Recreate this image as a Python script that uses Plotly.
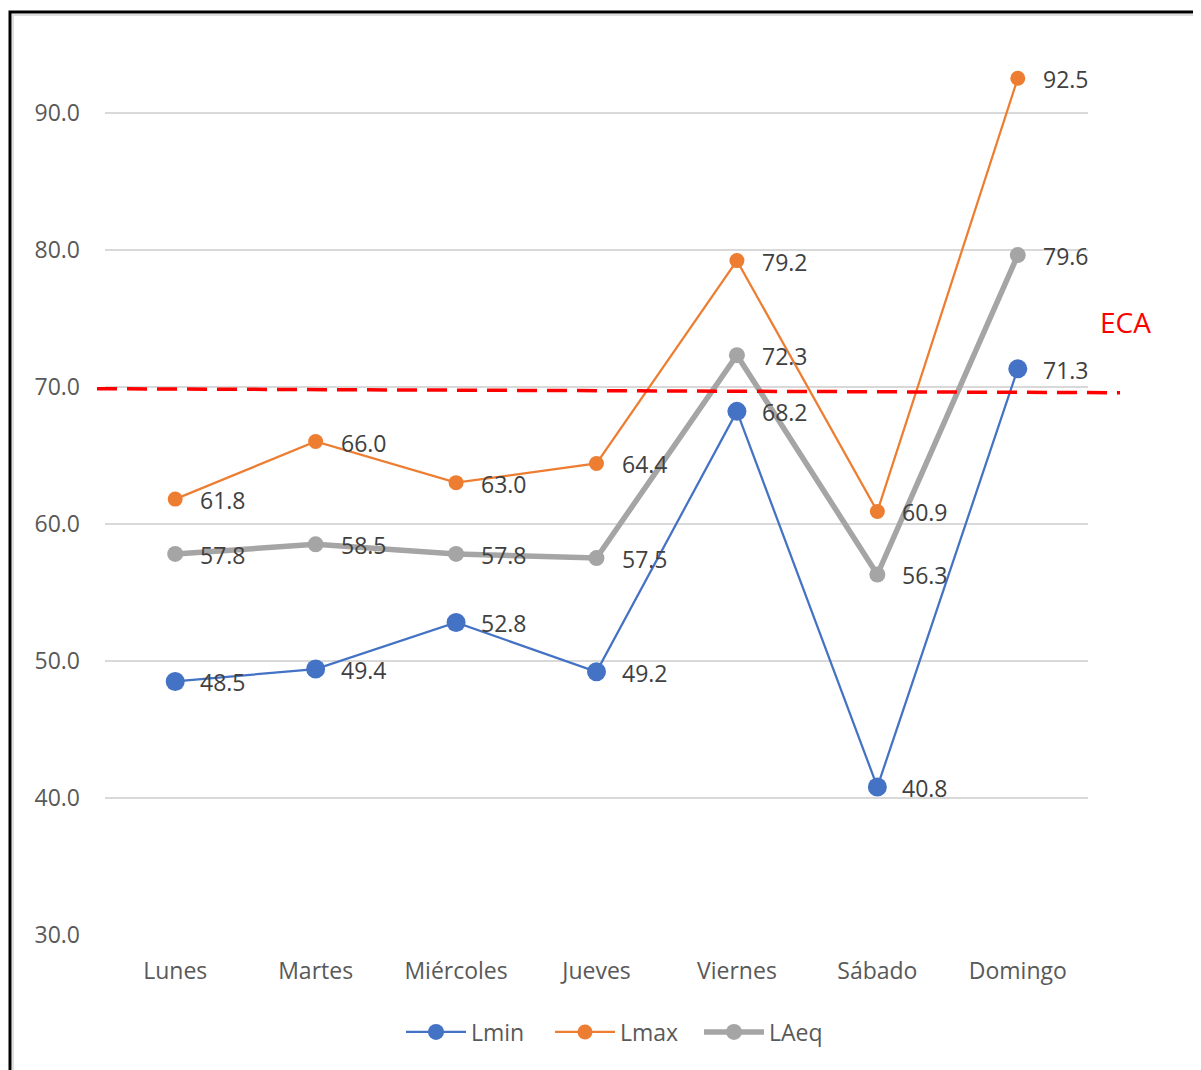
import plotly.graph_objects as go

days = ["Lunes", "Martes", "Miércoles", "Jueves", "Viernes", "Sábado", "Domingo"]
lmin = [48.5, 49.4, 52.8, 49.2, 68.2, 40.8, 71.3]
lmax = [61.8, 66.0, 63.0, 64.4, 79.2, 60.9, 92.5]
laeq = [57.8, 58.5, 57.8, 57.5, 72.3, 56.3, 79.6]
eca_start, eca_end = 69.85, 69.56
eca_label = "ECA"

W, H = 1201, 1070
OFF = 8  # page body margin
L = 105 - OFF
R = W - (1088 - OFF)
T = 44 - OFF
B = H - (935 - OFF)
PW = W - L - R
PH = H - T - B
YMIN, YMAX = 30, 95

def xp(px):
    return (px - OFF - L) / PW

def yp(py):
    return (H - B - (py - OFF)) / PH

def yv(v):
    return (v - YMIN) / (YMAX - YMIN)

FONT = "Open Sans, Noto Sans, sans-serif"

series = [
    ("Lmin", lmin, "#4472C4", 2.25, 19),
    ("Lmax", lmax, "#ED7D31", 2.25, 15),
    ("LAeq", laeq, "#A5A5A5", 5.5, 16),
]

fig = go.Figure()
annotations = []
for name, vals, color, lw, ms in series:
    fig.add_trace(go.Scatter(
        x=list(range(len(days))), y=vals, name=name, mode="lines+markers",
        line=dict(color=color, width=lw),
        marker=dict(color=color, size=ms),
    ))
    for i, v in enumerate(vals):
        annotations.append(dict(
            x=i, y=v, xref="x", yref="y", text=f"{v:.1f}", showarrow=False,
            xanchor="left", yanchor="middle", xshift=23, yshift=-1,
            font=dict(family=FONT, size=23, color="#404040"),
        ))

annotations.append(dict(
    x=xp(1125), y=yp(322), xref="paper", yref="paper",
    text=eca_label, showarrow=False, xanchor="center", yanchor="middle",
    font=dict(family=FONT, size=28, color="#FF0000"),
))

shapes = [
    dict(type="line", xref="paper", yref="paper", x0=xp(97), x1=xp(1120),
         y0=yv(eca_start), y1=yv(eca_end),
         line=dict(color="#FF0000", width=3.5, dash="20px,10px")),
    dict(type="rect", xref="paper", yref="paper",
         x0=xp(13), x1=xp(1300), y0=yp(1200), y1=yp(15),
         line=dict(color="#E0E0E0", width=2), layer="below"),
    dict(type="rect", xref="paper", yref="paper",
         x0=xp(10), x1=xp(1300), y0=yp(1200), y1=yp(12),
         line=dict(color="#000000", width=3), layer="above"),
]

fig.update_layout(
    width=W, height=H,
    margin=dict(l=L, r=R, t=T, b=B, autoexpand=False),
    paper_bgcolor="white", plot_bgcolor="white",
    font=dict(family=FONT, size=23, color="#595959"),
    xaxis=dict(
        tickmode="array", tickvals=list(range(len(days))), ticktext=days,
        range=[-0.5, len(days) - 0.5], showgrid=False, zeroline=False,
        showline=False, ticks="", ticklabelstandoff=20,
        tickfont=dict(size=23, color="#595959"),
    ),
    yaxis=dict(
        range=[YMIN, YMAX], tick0=30, dtick=10, tickformat=".1f",
        showgrid=True, gridcolor="#D9D9D9", gridwidth=2, zeroline=False,
        showline=False, ticks="", ticklabelstandoff=24,
        tickfont=dict(size=23, color="#595959"),
    ),
    legend=dict(
        orientation="h", x=xp(401), xanchor="left",
        y=yp(1032), yanchor="middle",
        font=dict(size=23, color="#595959"), itemwidth=60,
        entrywidth=74, entrywidthmode="pixels",
    ),
    annotations=annotations,
    shapes=shapes,
    showlegend=True,
)

fig.write_html("out.html")
